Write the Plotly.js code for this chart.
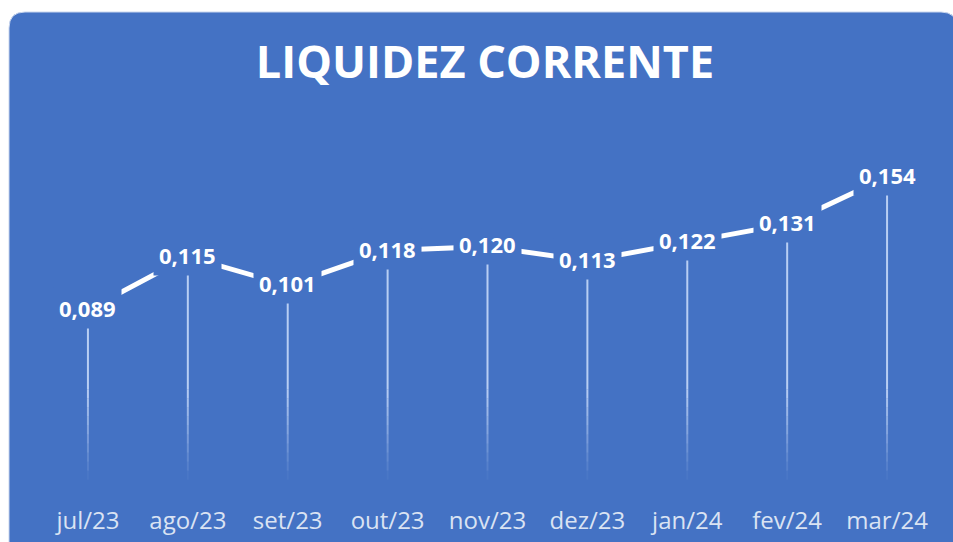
<!DOCTYPE html>
<html>
<head>
<meta charset="utf-8">
<script src="https://cdn.plot.ly/plotly-3.0.1.min.js"></script>
<style>
  html, body { margin: 0; padding: 0; background: #ffffff; }
  #chart { width: 953px; height: 542px; }
</style>
</head>
<body>
<div id="chart"></div>
<script>
// ---- data ----
const months = ["jul/23", "ago/23", "set/23", "out/23", "nov/23", "dez/23", "jan/24", "fev/24", "mar/24"];
const liquidez = [0.089, 0.115, 0.101, 0.118, 0.120, 0.113, 0.122, 0.131, 0.154];
const labels = ["0,089", "0,115", "0,101", "0,118", "0,120", "0,113", "0,122", "0,131", "0,154"];
const chartTitle = "LIQUIDEZ CORRENTE";

// ---- layout constants ----
const W = 953, H = 542;
const M = { l: 38, r: 16, t: 100, b: 50 };
const BLUE = "#4472C4";
const plotW = W - M.l - M.r, plotH = H - M.t - M.b;
const yMax = 0.1916;

// pixel -> paper helpers for the background panel
const px = x => (x - M.l) / plotW;
const py = y => (H - M.b - y) / plotH;

const panelLeft = 9, panelRight = 957, panelTop = 12, panelBottom = 560, rad = 16;
const rx = rad / plotW, ry = rad / plotH;
const PL = px(panelLeft), PR = px(panelRight), PT = py(panelTop), PB = py(panelBottom);
const panelPath =
  `M ${PL + rx},${PT} L ${PR - rx},${PT} Q ${PR},${PT} ${PR},${PT - ry} ` +
  `L ${PR},${PB + ry} Q ${PR},${PB} ${PR - rx},${PB} ` +
  `L ${PL + rx},${PB} Q ${PL},${PB} ${PL},${PB + ry} ` +
  `L ${PL},${PT - ry} Q ${PL},${PT} ${PL + rx},${PT} Z`;

const shapes = [{
  type: "path", xref: "paper", yref: "paper", path: panelPath,
  fillcolor: BLUE, line: { color: "#c9d6ee", width: 1 }, layer: "below"
}];

// drop lines (solid upper part, fading lower part)
const fadeTop = 0.05, fadeBottom = 0.006, steps = 10;
months.forEach((m, i) => {
  shapes.push({
    type: "line", xref: "x", yref: "y", x0: m, x1: m, y0: liquidez[i], y1: fadeTop,
    line: { color: "rgba(205,222,252,0.85)", width: 2 }, layer: "below"
  });
  for (let k = 0; k < steps; k++) {
    const a = fadeTop - (fadeTop - fadeBottom) * k / steps;
    const b = fadeTop - (fadeTop - fadeBottom) * (k + 1) / steps;
    shapes.push({
      type: "line", xref: "x", yref: "y", x0: m, x1: m, y0: a, y1: b,
      line: { color: `rgba(205,222,252,${(0.85 * (1 - (k + 0.5) / steps)).toFixed(3)})`, width: 2 },
      layer: "below"
    });
  }
});

const annotations = months.map((m, i) => ({
  x: m, y: liquidez[i], xref: "x", yref: "y",
  text: "<b>" + labels[i] + "</b>",
  showarrow: false, xanchor: "center", yanchor: "middle", yshift: 2,
  bgcolor: BLUE, borderpad: 5,
  font: { family: "Open Sans, sans-serif", size: 22, color: "#ffffff" }
}));

const trace = {
  type: "scatter", mode: "lines",
  x: months, y: liquidez,
  line: { color: "#ffffff", width: 5 },
  hoverinfo: "skip"
};

const layout = {
  width: W, height: H,
  margin: M,
  paper_bgcolor: "#ffffff",
  plot_bgcolor: "rgba(0,0,0,0)",
  showlegend: false,
  title: {
    text: "<b>" + chartTitle + "</b>",
    x: 485 / W, xanchor: "center", xref: "container",
    y: 1 - 62 / H, yanchor: "middle", yref: "container",
    font: { family: "Open Sans, sans-serif", size: 45, color: "#ffffff" }
  },
  xaxis: {
    type: "category", range: [-0.5, 8.5],
    showgrid: false, zeroline: false, showline: false, ticks: "",
    ticklabelstandoff: 12,
    tickfont: { family: "Open Sans, sans-serif", size: 24, color: "#dae3f3" },
    fixedrange: true
  },
  yaxis: {
    range: [0, yMax], visible: false, showgrid: false, zeroline: false, fixedrange: true
  },
  shapes: shapes,
  annotations: annotations
};

Plotly.newPlot("chart", [trace], layout, { displayModeBar: false, staticPlot: true });
</script>
</body>
</html>
